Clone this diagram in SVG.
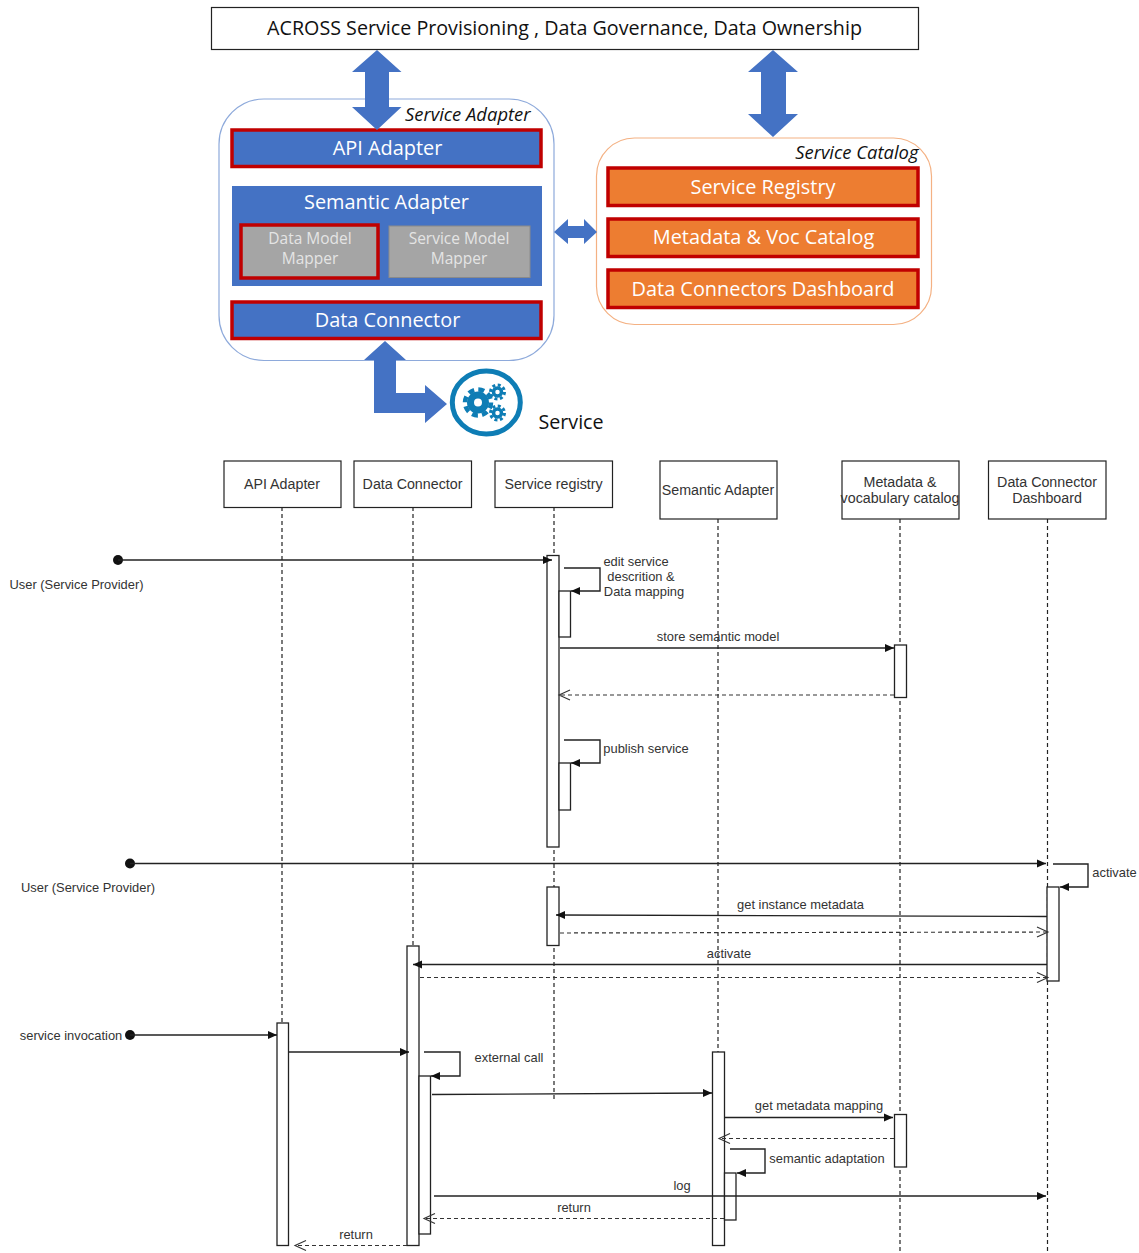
<svg xmlns="http://www.w3.org/2000/svg" width="1139" height="1253" viewBox="0 0 1139 1253">
<style>
.seg{font-family:"Open Sans","Noto Sans",sans-serif;text-anchor:middle}
.w{fill:#fff;font-size:19.900px}
.g{fill:#e4e4e4;font-size:15.500px}
.i{font-style:italic;font-size:18.400px;fill:#111;text-anchor:end}
.bar{fill:#4472c4}
.red{stroke:#c00000;stroke-width:3.5px}
.or{fill:#ed7d31}
.box{fill:#fff;stroke:#222;stroke-width:1.2px}
.t{font-family:"Liberation Sans",Arial,sans-serif;font-size:12.900px;fill:#333;text-anchor:middle}
.h{font-size:14.250px}
.l{fill:none;stroke:#222;stroke-width:1.3px}
.life{fill:none;stroke:#222;stroke-width:1.2px;stroke-dasharray:4 3}
.ret{fill:none;stroke:#333;stroke-width:1.2px;stroke-dasharray:4 3;marker-end:url(#open)}
.msg{fill:none;stroke:#222;stroke-width:1.4px;marker-end:url(#solid)}
.act{fill:#fff;stroke:#222;stroke-width:1.3px}
</style>
<defs>
<marker id="solid" markerUnits="userSpaceOnUse" markerWidth="10" markerHeight="10" refX="9" refY="5" orient="auto"><path d="M0 1L9 5L0 9Z" fill="#111"/></marker>
<marker id="open" markerUnits="userSpaceOnUse" markerWidth="14" markerHeight="14" refX="12" refY="7" orient="auto"><path d="M1 2L12 7L1 12" fill="none" stroke="#333" stroke-width="1.1"/></marker>
</defs>

<g id="governance"><rect x="211.5" y="7.5" width="707" height="42" fill="#fff" stroke="#222" stroke-width="1.2"/><text class="seg" x="564.5" y="34.500" font-size="19.700" fill="#111">ACROSS Service Provisioning , Data Governance, Data Ownership</text></g>

<g id="service-adapter">
<rect x="219" y="99" width="335" height="261.500" rx="45" fill="#fff" stroke="#8eaadb" stroke-width="1.2"/>
<text class="seg i" x="530.500" y="120.500">Service Adapter</text>
</g>
<g id="api-adapter"><rect class="bar red" x="232" y="130" width="309" height="36.500"/><text class="seg w" x="387.500" y="155">API Adapter</text></g>
<g id="semantic-adapter"><rect class="bar" x="232" y="186" width="310" height="100"/><text class="seg w" x="386.500" y="209">Semantic Adapter</text></g>
<g id="data-model-mapper"><rect class="red" fill="#a5a5a5" x="241" y="225" width="137" height="53"/><text class="seg g" x="310" y="244">Data Model</text><text class="seg g" x="310" y="264">Mapper</text></g>
<g id="service-model-mapper"><rect fill="#a5a5a5" stroke="#8a8a8a" x="389" y="226" width="141" height="51.500"/><text class="seg g" x="459" y="244">Service Model</text><text class="seg g" x="459" y="264">Mapper</text></g>
<g id="data-connector"><rect class="bar red" x="232" y="302" width="309" height="36.500"/><text class="seg w" x="387.500" y="327">Data Connector</text></g>

<g id="service-catalog">
<rect x="596.500" y="138" width="335" height="186.500" rx="38" fill="#fff" stroke="#f4b183" stroke-width="1.2"/>
<text class="seg i" x="918.500" y="158.500">Service Catalog</text>
</g>
<g id="service-registry"><rect class="or red" x="608" y="168" width="310" height="37.500"/><text class="seg w" x="763" y="194">Service Registry</text></g>
<g id="metadata-voc"><rect class="or red" x="608" y="219" width="310" height="37.500"/><text class="seg w" x="763.500" y="244">Metadata &amp; Voc Catalog</text></g>
<g id="dashboard"><rect class="or red" x="608" y="270" width="310" height="37.500"/><text class="seg w" x="763" y="296">Data Connectors Dashboard</text></g>

<g id="block-arrows" fill="#4472c4">
<path d="M377 50L401.500 72H389V107H401.500L377 130L352 107H365V72H352Z"/>
<path d="M773 50L798 72H786V114H798L773 137L748 114H761V72H748Z"/>
<path d="M554 232L568 219V226H584V219L597 232L584 244V238H568V244Z"/>
<path d="M385 341L406 360H396V393H425V385L447 404L425 423V413H374V360H364Z"/>
</g>

<g id="service">
<ellipse cx="486.300" cy="402.500" rx="34" ry="31.500" fill="#fff" stroke="#0e7db5" stroke-width="5"/>
<g fill="none" stroke="#0e7db5">
<circle cx="478" cy="402.500" r="7.500" stroke-width="7"/>
<circle cx="478" cy="402.500" r="13" stroke-width="4.500" stroke-dasharray="6 4.200"/>
<circle cx="497.500" cy="392" r="4" stroke-width="3.500"/>
<circle cx="497.500" cy="392" r="7" stroke-width="3" stroke-dasharray="3 2.500"/>
<circle cx="497.500" cy="413" r="4" stroke-width="3.500"/>
<circle cx="497.500" cy="413" r="7" stroke-width="3" stroke-dasharray="3 2.500"/>
</g>
<text class="seg" x="571" y="429" font-size="19.700" fill="#111">Service</text>
</g>

<g id="lifelines">
<path class="life" d="M282 507V1023"/>
<path class="life" d="M413 507V946"/>
<path class="life" d="M554 507V1102"/>
<path class="life" d="M718 519V1052"/>
<path class="life" d="M900 519V1253"/>
<path class="life" d="M1047.500 519V1253"/>
</g>

<g id="head-api"><rect class="box" x="224" y="461" width="117" height="46.500"/><text class="t h" x="282" y="489">API Adapter</text></g>
<g id="head-dc"><rect class="box" x="354" y="461" width="117.500" height="46.500"/><text class="t h" x="412.500" y="489">Data Connector</text></g>
<g id="head-sr"><rect class="box" x="495" y="461" width="117.500" height="46.500"/><text class="t h" x="553.500" y="489">Service registry</text></g>
<g id="head-sa"><rect class="box" x="660" y="461" width="117" height="58"/><text class="t h" x="718" y="495">Semantic Adapter</text></g>
<g id="head-mv"><rect class="box" x="842" y="461" width="117" height="58"/><text class="t h" x="900" y="487">Metadata &amp;</text><text class="t h" x="900" y="503">vocabulary catalog</text></g>
<g id="head-dd"><rect class="box" x="988.500" y="461" width="117.500" height="58"/><text class="t h" x="1047" y="487">Data Connector</text><text class="t h" x="1047" y="503">Dashboard</text></g>

<g id="activations">
<rect class="act" x="547" y="555.500" width="12" height="291.500"/>
<rect class="act" x="559" y="591" width="11.500" height="46"/>
<rect class="act" x="894.500" y="645" width="12" height="52.500"/>
<rect class="act" x="559" y="763" width="11.500" height="47"/>
<rect class="act" x="547" y="887" width="12" height="58.500"/>
<rect class="act" x="1047" y="887" width="12" height="94"/>
<rect class="act" x="407" y="946" width="12" height="299.500"/>
<rect class="act" x="419" y="1076" width="11.500" height="158"/>
<rect class="act" x="277" y="1023" width="11.500" height="222.500"/>
<rect class="act" x="712.500" y="1052" width="12" height="193.500"/>
<rect class="act" x="724.500" y="1173" width="11.500" height="47"/>
<rect class="act" x="894.500" y="1114.500" width="12" height="52.500"/>
</g>

<g id="connectors">
<circle cx="118" cy="560" r="5" fill="#111"/>
<path class="msg" d="M118 560H552"/>
<path class="msg" d="M564 568H600V591H571"/>
<path class="msg" d="M560 648H894"/>
<path class="ret" d="M894 695H559"/>
<path class="msg" d="M564 740H600V763H571"/>
<circle cx="130" cy="863.500" r="5" fill="#111"/>
<path class="msg" d="M130 863.500H1046"/>
<path class="msg" d="M1053 864H1088V887H1060"/>
<path class="msg" d="M1047 916.500L556 915"/>
<path class="ret" d="M560 933L1048 932"/>
<path class="msg" d="M1047 964.500H413"/>
<path class="ret" d="M420 977.500H1048"/>
<circle cx="130" cy="1035" r="5" fill="#111"/>
<path class="msg" d="M130 1035H277"/>
<path class="msg" d="M289 1052H409"/>
<path class="msg" d="M424 1052H460V1076H431"/>
<path class="msg" d="M432 1094.500L712 1093"/>
<path class="msg" d="M725 1117.500H893"/>
<path class="ret" d="M894 1138.500H719"/>
<path class="msg" d="M730 1149H765V1173H737"/>
<path class="msg" d="M434 1196H1046" stroke-width="1.700"/>
<path class="ret" d="M724 1218.500H424"/>
<path class="ret" d="M407 1245.500H295"/>
</g>

<g id="labels">
<text class="t" x="76.500" y="589">User (Service Provider)</text>
<text class="t" x="636" y="566">edit service</text>
<text class="t" x="641" y="581">descrition &amp;</text>
<text class="t" x="644" y="596">Data mapping</text>
<text class="t" x="718" y="641">store semantic model</text>
<text class="t" x="646" y="753">publish service</text>
<text class="t" x="88" y="892">User (Service Provider)</text>
<text class="t" x="1114.500" y="877">activate</text>
<text class="t" x="800.500" y="909">get instance metadata</text>
<text class="t" x="729" y="958">activate</text>
<text class="t" x="71" y="1040">service invocation</text>
<text class="t" x="509" y="1062">external call</text>
<text class="t" x="819" y="1110">get metadata mapping</text>
<text class="t" x="827" y="1163">semantic adaptation</text>
<text class="t" x="682" y="1190">log</text>
<text class="t" x="574" y="1212">return</text>
<text class="t" x="356" y="1239">return</text>
</g>
</svg>
